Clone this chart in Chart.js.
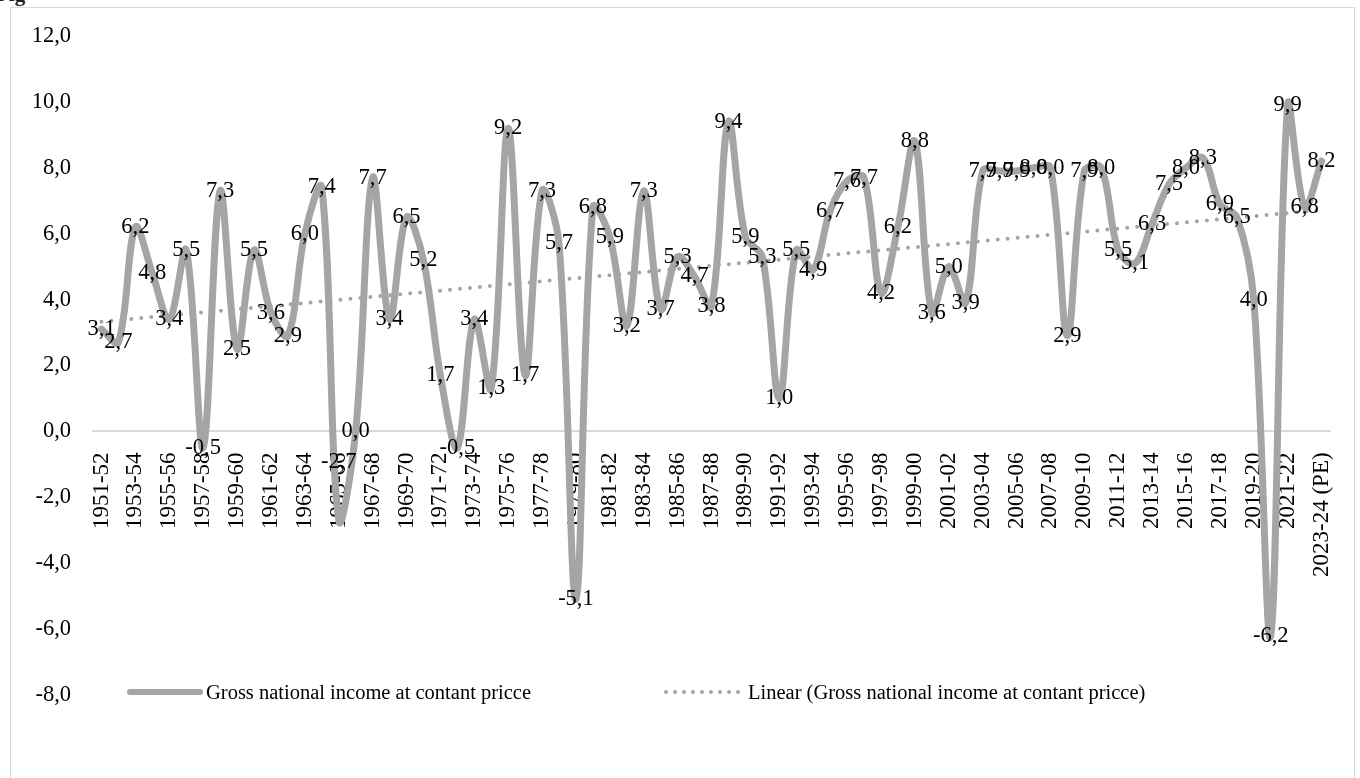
<!DOCTYPE html>
<html>
<head>
<meta charset="utf-8">
<title>Gross national income at constant prices</title>
<script src="https://cdn.jsdelivr.net/npm/chart.js@4.4.1/dist/chart.umd.min.js"></script>
<style>
  html, body { margin: 0; padding: 0; background: #fff; overflow: hidden; }
  #wrap { position: relative; width: 1360px; height: 778px; font-family: "Liberation Serif", "DejaVu Serif", serif; }
  #frame { position: absolute; left: 10px; top: 7px; width: 1345px; height: 800px; border: 1px solid #d9d9d9; box-sizing: border-box; }
  #heading { position: absolute; left: -4px; top: -17px; font-size: 21px; font-weight: bold; color: #222; line-height: 22px; }
  #chart { position: absolute; left: 0; top: 0; }
  .lg { position: absolute; top: 679px; font-size: 20.5px; line-height: 26px; color: #000; white-space: nowrap; }
  .lg svg { position: absolute; top: 0; }
</style>
</head>
<body>
<div id="wrap">
  <div id="frame"></div>
  <div id="heading">Fig</div>
  <canvas id="chart" width="1360" height="778"></canvas>
  <div class="lg" style="left:126px;">
    <svg width="78" height="26" style="left:0;"><line x1="4" y1="13" x2="74" y2="13" stroke="#a5a5a5" stroke-width="6" stroke-linecap="round"/></svg>
    <span style="position:absolute;left:80px;">Gross national income at contant pricce</span>
  </div>
  <div class="lg" style="left:662px;">
    <svg width="82" height="26" style="left:0;"><line x1="4" y1="13" x2="78" y2="13" stroke="#a5a5a5" stroke-width="4" stroke-linecap="round" stroke-dasharray="0 9"/></svg>
    <span style="position:absolute;left:86px;">Linear (Gross national income at contant pricce)</span>
  </div>
</div>
<script>
// Fiscal years on the category axis
const categories = [
  '1951-52', '1952-53', '1953-54', '1954-55', '1955-56', '1956-57', '1957-58', '1958-59', '1959-60', '1960-61',
  '1961-62', '1962-63', '1963-64', '1964-65', '1965-66', '1966-67', '1967-68', '1968-69', '1969-70', '1970-71',
  '1971-72', '1972-73', '1973-74', '1974-75', '1975-76', '1976-77', '1977-78', '1978-79', '1979-80', '1980-81',
  '1981-82', '1982-83', '1983-84', '1984-85', '1985-86', '1986-87', '1987-88', '1988-89', '1989-90', '1990-91',
  '1991-92', '1992-93', '1993-94', '1994-95', '1995-96', '1996-97', '1997-98', '1998-99', '1999-00', '2000-01',
  '2001-02', '2002-03', '2003-04', '2004-05', '2005-06', '2006-07', '2007-08', '2008-09', '2009-10', '2010-11',
  '2011-12', '2012-13', '2013-14', '2014-15', '2015-16', '2016-17', '2017-18', '2018-19', '2019-20', '2020-21',
  '2021-22', '2022-23', '2023-24 (PE)'
];

// Growth of gross national income at constant prices (%)
const gniGrowth = [
  3.1, 2.7, 6.2, 4.8, 3.4, 5.5, -0.5, 7.3, 2.5, 5.5,
  3.6, 2.9, 6.0, 7.4, -2.7, 0.0, 7.7, 3.4, 6.5, 5.2,
  1.7, -0.5, 3.4, 1.3, 9.2, 1.7, 7.3, 5.7, -5.1, 6.8,
  5.9, 3.2, 7.3, 3.7, 5.3, 4.7, 3.8, 9.4, 5.9, 5.3,
  1.0, 5.5, 4.9, 6.7, 7.6, 7.7, 4.2, 6.2, 8.8, 3.6,
  5.0, 3.9, 7.9, 7.9, 7.9, 8.0, 8.0, 2.9, 7.9, 8.0,
  5.5, 5.1, 6.3, 7.5, 8.0, 8.3, 6.9, 6.5, 4.0, -6.2,
  9.9, 6.8, 8.2
];

// Value axis range
const yMin = -8;
const yMax = 12;
const yStep = 2;

const seriesName = 'Gross national income at contant pricce';
const trendName = 'Linear (Gross national income at contant pricce)';

// Least-squares linear trend over the category index
function linearTrend(values) {
  const n = values.length;
  let sx = 0, sy = 0, sxx = 0, sxy = 0;
  values.forEach((v, i) => { const x = i + 1; sx += x; sy += v; sxx += x * x; sxy += x * v; });
  const slope = (n * sxy - sx * sy) / (n * sxx - sx * sx);
  const intercept = (sy - slope * sx) / n;
  return values.map((_, i) => intercept + slope * (i + 1));
}

const commaNum = v => Number(v).toFixed(1).replace('.', ',');
const FONT = '"Liberation Serif", "DejaVu Serif", serif';
const GREY = '#a5a5a5';

// A few value labels sit away from their points
const labelShift = { 14: -58 };

const valueLabels = {
  id: 'valueLabels',
  afterDatasetsDraw(chart) {
    const meta = chart.getDatasetMeta(0);
    const ctx = chart.ctx;
    ctx.save();
    ctx.font = '22.5px ' + FONT;
    ctx.fillStyle = '#000';
    ctx.textAlign = 'center';
    ctx.textBaseline = 'middle';
    meta.data.forEach((pt, i) => {
      const dy = labelShift[i] || 0;
      ctx.fillText(commaNum(gniGrowth[i]), pt.x, pt.y + dy);
    });
    ctx.restore();
  }
};

new Chart(document.getElementById('chart'), {
  type: 'line',
  data: {
    labels: categories,
    datasets: [
      {
        label: seriesName,
        data: gniGrowth,
        borderColor: GREY,
        borderWidth: 7,
        pointRadius: 0,
        tension: 0.35,
        borderCapStyle: 'round',
        borderJoinStyle: 'round',
        fill: false
      },
      {
        label: trendName,
        data: linearTrend(gniGrowth),
        borderColor: GREY,
        borderWidth: 4,
        borderDash: [0, 10],
        borderCapStyle: 'round',
        pointRadius: 0,
        tension: 0,
        fill: false
      }
    ]
  },
  options: {
    responsive: false,
    animation: false,
    devicePixelRatio: 1,
    layout: { padding: { left: 10, right: 30, top: 36, bottom: 83 } },
    plugins: {
      legend: { display: false },
      tooltip: { enabled: false }
    },
    scales: {
      x: {
        type: 'category',
        offset: true,
        position: { y: 0 },
        grid: { display: false, drawTicks: false },
        border: { display: true, color: '#d9d9d9', width: 2 },
        ticks: {
          autoSkip: false,
          maxRotation: 90,
          minRotation: 90,
          padding: 21,
          color: '#000',
          font: { family: FONT, size: 23 },
          callback: (val, idx) => (idx % 2 === 0 ? categories[idx] : '')
        },
        afterFit: s => { s.height = 0; s.paddingLeft = 0; s.paddingRight = 0; }
      },
      y: {
        min: yMin,
        max: yMax,
        grid: { display: false, drawTicks: false },
        border: { display: false },
        ticks: {
          stepSize: yStep,
          padding: 22,
          color: '#000',
          font: { family: FONT, size: 22.5 },
          callback: v => commaNum(v)
        },
        afterFit: s => { s.width = 83; s.paddingTop = 0; s.paddingBottom = 0; }
      }
    }
  },
  plugins: [valueLabels]
});
</script>
</body>
</html>
